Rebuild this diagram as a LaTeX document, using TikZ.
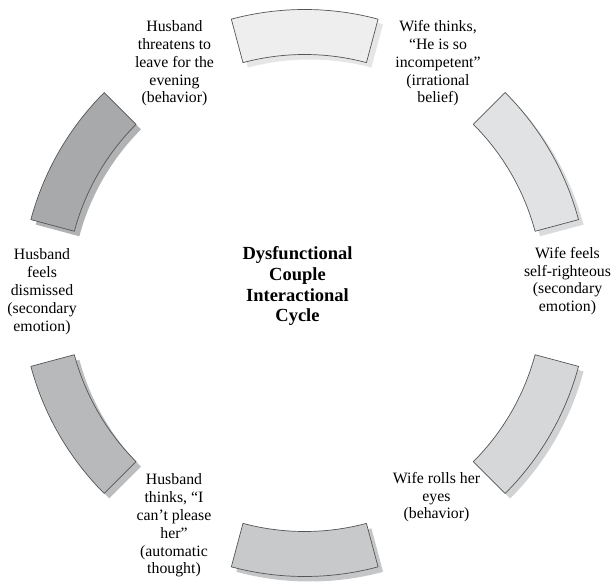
\documentclass[tikz,border=0pt]{standalone}
\usepackage{fontspec}
\setmainfont{Liberation Serif}
\definecolor{segline}{HTML}{555555}
\definecolor{fillA}{HTML}{EEEEEE}\definecolor{shadA}{HTML}{E6E6E6}
\definecolor{fillB}{HTML}{E1E2E3}\definecolor{shadB}{HTML}{DADBDC}
\definecolor{fillC}{HTML}{D6D7D8}\definecolor{shadC}{HTML}{D1D2D3}
\definecolor{fillD}{HTML}{C8C9CA}\definecolor{shadD}{HTML}{C5C6C7}
\definecolor{fillE}{HTML}{B8B9BB}\definecolor{shadE}{HTML}{BCBDBF}
\definecolor{fillF}{HTML}{A8A9AB}\definecolor{shadF}{HTML}{B1B2B4}
\begin{document}
\begin{tikzpicture}[x=1pt,y=1pt,
  seg/.style={draw=segline, line width=0.7pt, line join=round},
  lbl/.style={align=center, anchor=base, inner sep=0pt, font=\fontsize{15.8}{17.8}\selectfont},
  ttl/.style={align=center, anchor=base, inner sep=0pt, font=\fontsize{18.5}{20.6}\selectfont\bfseries}]
\useasboundingbox (0,0) rectangle (611,584);
\coordinate (c) at (304.7,291);
\foreach \a/\f/\s in {90/fillA/shadA,30/fillB/shadB,-30/fillC/shadC,-90/fillD/shadD,210/fillE/shadE,150/fillF/shadF}{
  \fill[\s, shift={(309.7,286)}] ({\a-15}:283.5) arc[start angle=\a-15, end angle=\a+15, radius=283.5]
     -- ({\a+15}:238.5) arc[start angle=\a+15, end angle=\a-15, radius=238.5] -- cycle;
  \draw[seg, fill=\f, shift={(c)}] ({\a-15}:283.5) arc[start angle=\a-15, end angle=\a+15, radius=283.5]
     -- ({\a+15}:238.5) arc[start angle=\a+15, end angle=\a-15, radius=238.5] -- cycle;
}
% anchor=base sits on the last line's baseline
\node[lbl] (t1) at (174.5,481.1) {Husband\\threatens to\\leave for the\\evening\\(behavior)};
\node[lbl] (t2) at (438,481.1) {Wife thinks,\\“He is so\\incompetent”\\(irrational\\belief)};
\node[lbl] (t3) at (567.5,272.3) {Wife feels\\self-righteous\\(secondary\\emotion)};
\node[lbl] (t4) at (436.5,65.1) {Wife rolls her\\eyes\\(behavior)};
\node[lbl] (t5) at (174,10) {Husband\\thinks, “I\\can’t please\\her”\\(automatic\\thought)};
\node[lbl] (t6) at (42,252.8) {Husband\\feels\\dismissed\\(secondary\\emotion)};
\node[ttl] (tc) at (297.5,262.2) {Dysfunctional\\Couple\\Interactional\\Cycle};
\end{tikzpicture}
\end{document}
